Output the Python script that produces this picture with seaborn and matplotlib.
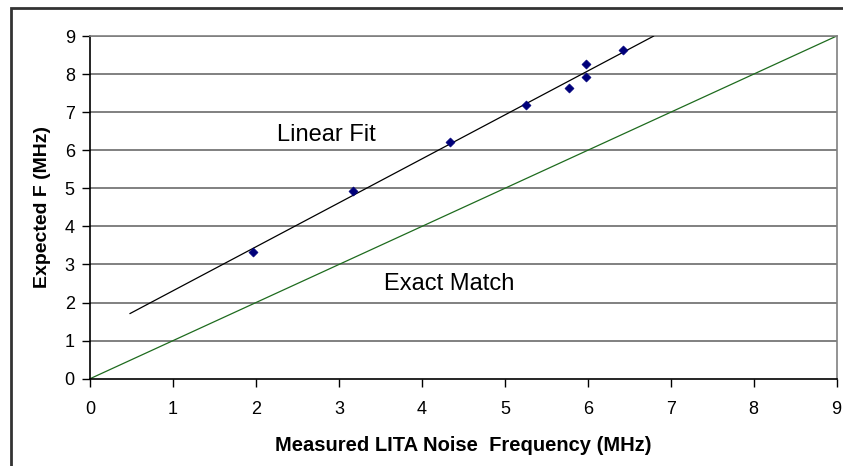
import numpy as np
import pandas as pd
import matplotlib
matplotlib.use("Agg")
import matplotlib.pyplot as plt
import seaborn as sns
from matplotlib.patches import Rectangle

# measured vs expected frequency (MHz)
measured = [1.97, 3.17, 4.34, 5.26, 5.77, 5.98, 5.98, 6.43]
expected = [3.34, 4.94, 6.22, 7.20, 7.63, 8.26, 7.93, 8.63]
exact_x = [0, 9]
exact_y = [0, 9]
ticks = list(range(10))

sns.set_style("white")
plt.rcParams['font.family'] = ['Liberation Sans', 'DejaVu Sans']
plt.rcParams['text.color'] = 'black'
plt.rcParams['axes.labelcolor'] = 'black'

df = pd.DataFrame({"measured": measured, "expected": expected})

fig = plt.figure(figsize=(8.43, 4.66), dpi=100)
ax = fig.add_axes([0.1068, 0.1873, 0.8857, 0.7354])

# horizontal grid
for t in ticks[1:]:
    ax.axhline(t, color="#808080", lw=1.4, zorder=0)

# exact match line
sns.lineplot(x=exact_x, y=exact_y, ax=ax, color="#1e6b1e", lw=0.9, zorder=2)

# linear fit (least squares) drawn from 0.48 to top of axis
m, b = np.polyfit(measured, expected, 1)
fit_x = np.array([0.48, (9 - b) / m])
sns.lineplot(x=fit_x, y=m * fit_x + b, ax=ax, color="black", lw=0.9, zorder=3)

sns.scatterplot(data=df, x="measured", y="expected", ax=ax, marker="D",
                color="#00007a", edgecolor="#00007a", s=22, zorder=4)

ax.text(2.85, 6.40, "Linear Fit", fontsize=17, ha="center", va="center")
ax.text(4.33, 2.49, "Exact Match", fontsize=17, ha="center", va="center")

ax.set_xlim(0, 9)
ax.set_ylim(0, 9)
ax.set_xticks(ticks)
ax.set_yticks(ticks)
ax.tick_params(axis="x", direction="out", length=6, width=1, pad=10,
               labelsize=13, bottom=True, colors="black")
ax.tick_params(axis="y", direction="out", length=6, width=1, pad=5,
               labelsize=13, left=True, colors="black")

for s in ["left", "bottom"]:
    ax.spines[s].set_color("black")
    ax.spines[s].set_linewidth(1.2)
for s in ["top", "right"]:
    ax.spines[s].set_color("#808080")
    ax.spines[s].set_linewidth(1.2)

ax.set_xlabel("Measured LITA Noise  Frequency (MHz)", fontsize=14.5,
              fontweight="bold", labelpad=13)
ax.set_ylabel("Expected F (MHz)", fontsize=14, fontweight="bold", labelpad=10)

# outer chart border
fig.patches.append(Rectangle((11 / 843, -0.1), 1.2, 1 - 8 / 466 + 0.1,
                             transform=fig.transFigure, fill=False,
                             edgecolor="#333333", lw=2))

fig.savefig("out.png", dpi=100)
